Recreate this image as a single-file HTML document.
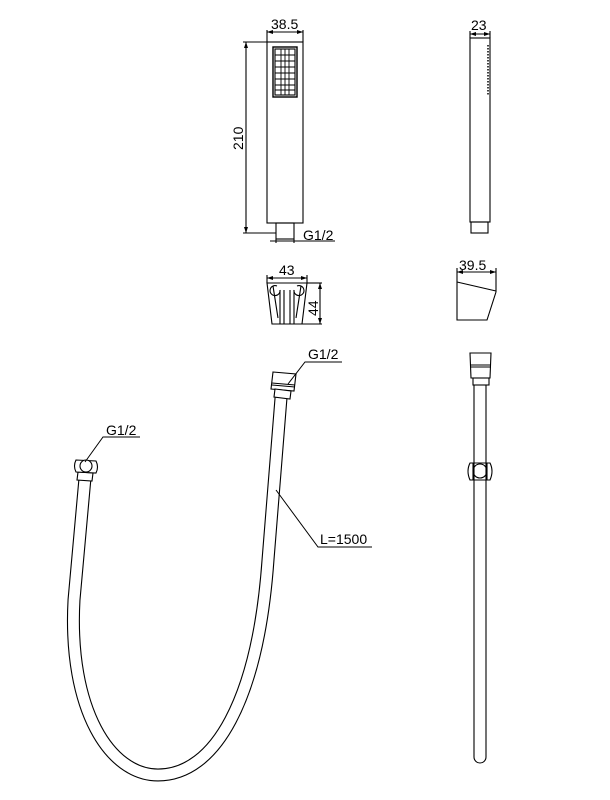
<!DOCTYPE html>
<html><head><meta charset="utf-8"><style>
html,body{margin:0;padding:0;background:#fff;}
svg{display:block;}
text{font-family:"Liberation Sans",sans-serif;font-size:14px;fill:#000;}
</style></head><body>
<svg width="610" height="800" viewBox="0 0 610 800" xmlns="http://www.w3.org/2000/svg">
<defs>
<marker id="a" markerWidth="6" markerHeight="4" refX="6" refY="2" orient="auto-start-reverse" markerUnits="userSpaceOnUse"><path d="M0,0 L6,2 L0,4 Z" fill="#000"/></marker>
</defs>
<g fill="none" stroke="#000" stroke-width="1.1">
<!-- handheld front -->
<rect x="267" y="42" width="36" height="181"/>
<rect x="276" y="223" width="18" height="16"/>
<rect x="273" y="47" width="24" height="50" stroke-width="1.4"/>
<rect x="275" y="49" width="20" height="46"/>
<g stroke-width="0.9">
<line x1="275" y1="55" x2="295" y2="55"/><line x1="275" y1="61" x2="295" y2="61"/>
<line x1="275" y1="67" x2="295" y2="67"/><line x1="275" y1="73" x2="295" y2="73"/>
<line x1="275" y1="79" x2="295" y2="79"/><line x1="275" y1="85" x2="295" y2="85"/>
<line x1="275" y1="90" x2="295" y2="90"/>
<line x1="281" y1="49" x2="281" y2="95"/><line x1="285" y1="49" x2="285" y2="95"/><line x1="289" y1="49" x2="289" y2="95"/>
</g>
<!-- dims -->
<line x1="267" y1="30" x2="267" y2="42"/><line x1="303" y1="30" x2="303" y2="42"/>
<line x1="267" y1="32" x2="303" y2="32" marker-start="url(#a)" marker-end="url(#a)"/>
<line x1="243" y1="42" x2="267" y2="42"/><line x1="243" y1="233" x2="276" y2="233"/>
<line x1="246" y1="42" x2="246" y2="233" marker-start="url(#a)" marker-end="url(#a)"/>
<line x1="276" y1="239" x2="276" y2="243"/><line x1="294" y1="239" x2="294" y2="243"/>
<line x1="270" y1="241" x2="335" y2="241"/>
<!-- side view -->
<rect x="470" y="38" width="20" height="184"/>
<rect x="471" y="222" width="17" height="11"/>
<line x1="488" y1="45" x2="488" y2="95" stroke-dasharray="1.5,1.5" stroke-width="1.5"/>
<line x1="470" y1="34" x2="490" y2="34" marker-start="url(#a)" marker-end="url(#a)"/>
<line x1="470" y1="31" x2="470" y2="38"/><line x1="490" y1="31" x2="490" y2="38"/>
<!-- holder front -->
<line x1="267" y1="278" x2="307" y2="278" marker-start="url(#a)" marker-end="url(#a)"/>
<line x1="267" y1="275" x2="267" y2="283"/><line x1="307" y1="275" x2="307" y2="283"/>
<path d="M267,283 L307,283 L302,324 L272,324 Z"/>
<path d="M273,286 L278,318 M301,286 L296,318 M280,290 L280,324 M284,290 L284,324 M290,290 L290,324 M294,290 L294,324"/>
<path d="M280,290 A5,5 0 1 1 277,286 M294,290 A5,5 0 1 0 297,286"/>
<line x1="307" y1="283" x2="322" y2="283"/><line x1="302" y1="324" x2="322" y2="324"/>
<line x1="320" y1="283" x2="320" y2="324" marker-start="url(#a)" marker-end="url(#a)"/>
<!-- holder side -->
<line x1="457" y1="272" x2="496" y2="272" marker-start="url(#a)" marker-end="url(#a)"/>
<line x1="457" y1="268" x2="457" y2="276"/><line x1="496" y1="268" x2="496" y2="292"/>
<path d="M457,276 L457,320 L487,320 L496,292"/>
<line x1="457" y1="282" x2="496" y2="291"/>
<!-- right hose vertical -->
<path d="M470,353 L491,353 L490,378 L471,378 Z"/>
<line x1="470" y1="365" x2="491" y2="365"/><line x1="470" y1="367" x2="491" y2="367"/>
<rect x="473" y="378" width="16" height="7"/>
<path d="M474,385 L474,757 A6,6 0 0 0 486,757 L486,385"/>
<path d="M470,463 L490,463 Q494,471 490,480 L470,480 Q466,471 470,463 Z"/>
<circle cx="480" cy="471" r="7"/>
<line x1="473" y1="463" x2="473" y2="480"/><line x1="487" y1="463" x2="487" y2="480"/>
</g>
<!-- hose loop -->
<path d="M85,478 L74,600 C68,710 110,775 158,775 C215,775 258,700 268,560 L281,398" fill="none" stroke="#000" stroke-width="13"/>
<path d="M85,478 L74,600 C68,710 110,775 158,775 C215,775 258,700 268,560 L281,398" fill="none" stroke="#fff" stroke-width="10.8"/>
<g fill="#fff" stroke="#000" stroke-width="1.1">
<path d="M78,472 L93,473 L92,481 L77,480 Z"/>
<path d="M76,460 L96,461 Q99,467 96,473 L76,472 Q73,466 76,460 Z"/>
<circle cx="86" cy="466" r="6"/>
<path d="M273,372 L296,374 L294,391 L271,389 Z"/>
<line x1="272" y1="383" x2="295" y2="385"/><line x1="272" y1="385" x2="295" y2="387"/>
<path d="M275,389 L291,391 L290,399 L274,397 Z"/>
</g>
<g fill="none" stroke="#000" stroke-width="1">
<path d="M288,384 L305,362 L342,362"/>
<path d="M85,462 L103,437 L140,437"/>
<path d="M276,490 L318,547 L372,547"/>
</g>
<text x="271" y="29">38.5</text>
<text x="243" y="150" transform="rotate(-90 243 150)">210</text>
<text x="303" y="240">G1/2</text>
<text x="471" y="30">23</text>
<text x="279" y="275">43</text>
<text x="318" y="316" transform="rotate(-90 318 316)">44</text>
<text x="459" y="270">39.5</text>
<text x="308" y="359">G1/2</text>
<text x="106" y="435">G1/2</text>
<text x="320" y="544">L=1500</text>
</svg>
</body></html>
